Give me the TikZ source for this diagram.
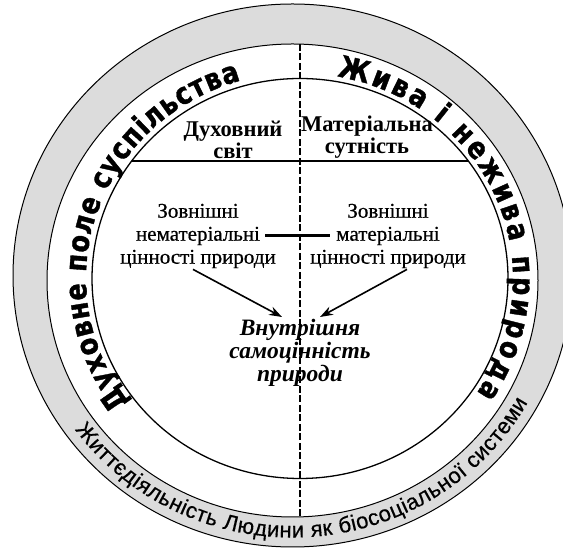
\documentclass[tikz,border=0pt]{standalone}
\usepackage{fontspec}
\setmainfont{Liberation Serif}
\newfontfamily\bandfont{DejaVu Sans Bold}[FakeStretch=0.85,FakeBold=1.2]
\newfontfamily\rimfont{Liberation Sans}[FakeBold=0.5]
\newfontfamily\plainfont{Liberation Serif}[FakeBold=0.6]
\usetikzlibrary{arrows.meta,decorations.text}
\definecolor{ringgray}{RGB}{220,220,220}
\tikzset{
  rim/.style={draw=black, line width=1pt},
  divider/.style={line width=1.8pt, dash pattern=on 7pt off 2.5pt},
  plain/.style={font=\plainfont\fontsize{21}{23}\selectfont, align=center, inner sep=0pt},
  head/.style={font=\bfseries\fontsize{22.5}{22}\selectfont, align=center, inner sep=0pt},
  core/.style={font=\bfseries\itshape\fontsize{23.5}{23}\selectfont, align=center, inner sep=0pt},
  link/.style={line width=1.6pt, -{Stealth[length=13pt,width=9pt]}},
  crossbar/.style={line width=3pt},
  chordline/.style={line width=1.2pt},
}
\begin{document}
\begin{tikzpicture}[x=1pt,y=1pt]
\useasboundingbox (0,0) rectangle (563,551);
\clip (0,0) rectangle (563,551);
% rings
\filldraw[fill=ringgray, rim] (292.5,275.5) ellipse [x radius=279.5, y radius=271.5];
\filldraw[fill=white, rim] (292.5,270.5) ellipse [x radius=245.5, y radius=236.5];
\draw[line width=1.3pt] (300,272.5) ellipse [x radius=208, y radius=200];
% divider and chord
\coordinate (dtop) at (300,507);
\coordinate (dbot) at (300,34);
\draw[divider] (dtop) -- (dbot);
\coordinate (chL) at (132,390);
\coordinate (chR) at (468,390);
\draw[chordline] (chL) -- (chR);
% texts
\node[head, anchor=south] (spirit) at (233,392) {Духовний\\світ};
\node[head, anchor=south] (matter) at (367,392) {Матеріальна\\сутність};
\node[plain] (lft) at (198,315) {Зовнішні\\нематеріальні\\цінності природи};
\node[plain] (rgt) at (388,315) {Зовнішні\\матеріальні\\цінності природи};
\node[core] (ctr) at (300,198) {Внутрішня\\самоцінність\\природи};
% bar and arrows
\coordinate (barL) at (265,315);
\coordinate (barR) at (330,315);
\draw[crossbar] (barL) -- (barR);
\coordinate (tipL) at (282,234);
\coordinate (tipR) at (320,234);
\draw[link] ([xshift=-5pt,yshift=-1pt]lft.south) -- (tipL);
\draw[link] ([xshift=19pt,yshift=-1pt]rgt.south) -- (tipR);
% band texts
\path[decorate, decoration={text along path, text align={fit to path},
  text={|\bandfont\fontsize{30}{30}\selectfont|Духовне поле суспільства}}]
  ([shift={(300,272.5)}]217:214 and 206) arc[start angle=217, end angle=106, x radius=214, y radius=206];
\path[decorate, decoration={text along path, text align={fit to path},
  text={|\bandfont\fontsize{30}{30}\selectfont|Жива і нежива природа}}]
  ([shift={(300,272.5)}]80:213 and 205) arc[start angle=80, end angle=-34, x radius=213, y radius=205];
\path[decorate, decoration={text along path, text align={fit to path},
  text={|\rimfont\fontsize{22}{22}\selectfont|Життєдіяльність Людини як біосоціальної системи}}]
  ([shift={(292.5,275.5)}]216:269 and 262) arc[start angle=216, end angle=331, x radius=269, y radius=262];
\end{tikzpicture}
\end{document}
